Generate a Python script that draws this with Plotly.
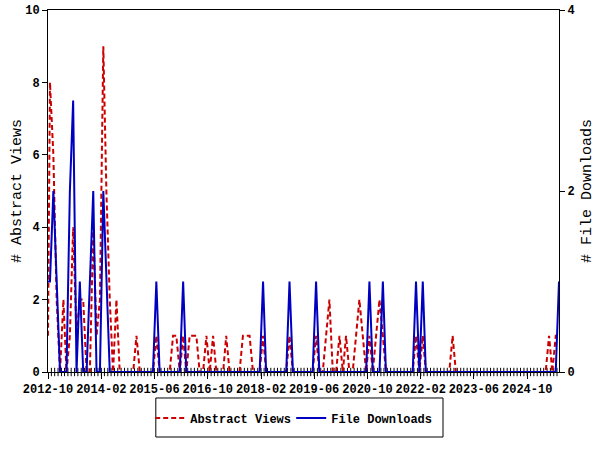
import plotly.graph_objects as go

# ---- data -------------------------------------------------------------
start_date = "2012-10-01"          # first record (at the left border)
first_month = (2012, 10)           # monthly points afterwards (day 19)
point_day = 19

start_views = 1
start_downloads = 1

abstract_views = [
    8, 6, 2, 0, 2, 0, 1, 4, 1, 2,
    2, 0, 0, 4, 1, 2, 9, 5, 2, 0,
    2, 0, 0, 0, 0, 0, 1, 0, 0, 0,
    0, 0, 1, 0, 0, 0, 0, 1, 1, 0,
    1, 0, 1, 1, 1, 0, 0, 1, 0, 1,
    0, 0, 0, 1, 0, 0, 0, 0, 1, 1,
    1, 0, 0, 0, 1, 0, 0, 0, 0, 0,
    0, 0, 1, 0, 0, 0, 0, 0, 0, 0,
    1, 0, 0, 1, 2, 0, 0, 1, 0, 1,
    0, 0, 1, 2, 1, 0, 1, 0, 1, 2,
    1, 0, 0, 0, 0, 0, 0, 0, 0, 0,
    1, 0, 1, 0, 0, 0, 0, 0, 0, 0,
    0, 1, 0, 0, 0, 0, 0, 0, 0, 0,
    0, 0, 0, 0, 0, 0, 0, 0, 0, 0,
    0, 0, 0, 0, 0, 0, 0, 0, 0, 0,
    1, 0, 1, 1,
]

file_downloads = [
    1, 2, 1, 0, 0, 0, 2, 3, 0, 1,
    0, 0, 1, 2, 0, 0, 2, 1, 0, 0,
    0, 0, 0, 0, 0, 0, 0, 0, 0, 0,
    0, 0, 1, 0, 0, 0, 0, 0, 0, 0,
    1, 0, 0, 0, 0, 0, 0, 0, 0, 0,
    0, 0, 0, 0, 0, 0, 0, 0, 0, 0,
    0, 0, 0, 0, 1, 0, 0, 0, 0, 0,
    0, 0, 1, 0, 0, 0, 0, 0, 0, 0,
    1, 0, 0, 0, 0, 0, 0, 0, 0, 0,
    0, 0, 0, 0, 0, 0, 1, 0, 0, 0,
    1, 0, 0, 0, 0, 0, 0, 0, 0, 0,
    1, 0, 1, 0, 0, 0, 0, 0, 0, 0,
    0, 0, 0, 0, 0, 0, 0, 0, 0, 0,
    0, 0, 0, 0, 0, 0, 0, 0, 0, 0,
    0, 0, 0, 0, 0, 0, 0, 0, 0, 0,
    0, 0, 0, 1,
]

tick_labels = ["2012-10", "2014-02", "2015-06", "2016-10", "2018-02",
               "2019-06", "2020-10", "2022-02", "2023-06", "2024-10"]

left_title = "# Abstract Views"
right_title = "# File Downloads"

# ---- build dates -------------------------------------------------------
def month_date(i, day):
    y, m = first_month
    m0 = m - 1 + i
    return f"{y + m0 // 12:04d}-{m0 % 12 + 1:02d}-{day:02d}"

dates = [start_date] + [month_date(i, point_day) for i in range(len(abstract_views))]
views = [start_views] + abstract_views
downloads = [start_downloads] + file_downloads
tick_vals = [lab + "-01" for lab in tick_labels]
minor_tick_dates = [month_date(i, 1) for i in range(1, len(abstract_views) + 1)]
x_range = [start_date, dates[-1]]

FONT = "Liberation Mono, DejaVu Sans Mono, monospace"
RED = "#cc0000"
BLUE = "#0000c0"
TICKFONT = dict(family=FONT, size=12, color="black", weight="bold")

fig = go.Figure()
# monthly minor tick marks along the bottom axis
fig.add_trace(go.Scatter(
    x=minor_tick_dates, y=[0] * len(minor_tick_dates), mode="markers",
    marker=dict(symbol="line-ns", size=6, line=dict(color="black", width=1)),
    cliponaxis=False, showlegend=False, hoverinfo="skip", yaxis="y"))
fig.add_trace(go.Scatter(
    x=dates, y=views, name="Abstract Views", mode="lines",
    line=dict(color=RED, width=2, dash="5px,3px"), yaxis="y"))
fig.add_trace(go.Scatter(
    x=dates, y=downloads, name="File Downloads", mode="lines",
    line=dict(color=BLUE, width=2), yaxis="y2"))

fig.update_layout(
    width=600, height=450,
    margin=dict(l=48, r=41, t=10, b=78),
    paper_bgcolor="white", plot_bgcolor="white",
    font=dict(family=FONT, size=12, color="black"),
    showlegend=True,
    legend=dict(orientation="h", x=0.2, xanchor="left", y=-0.127, yanchor="middle",
                borderwidth=0, bgcolor="rgba(0,0,0,0)",
                font=dict(family=FONT, size=12, color="black", weight="bold"),
                itemwidth=30, tracegroupgap=0,
                entrywidth=96, entrywidthmode="pixels"),
    shapes=[dict(type="rect", xref="paper", yref="paper",
                 x0=0.211, x1=0.773, y0=-0.1796, y1=-0.0718,
                 line=dict(color="black", width=1), fillcolor="rgba(0,0,0,0)")],
    xaxis=dict(
        type="date", range=x_range, automargin=False,
        tickmode="array", tickvals=tick_vals, ticktext=tick_labels, tickangle=0,
        ticks="outside", ticklen=6, tickcolor="black", tickwidth=1,
        tickfont=TICKFONT,
        showline=True, linecolor="black", linewidth=1, mirror=True,
        showgrid=False, zeroline=False),
    yaxis=dict(
        range=[0, 10], dtick=2, ticks="outside", ticklen=5, tickcolor="black",
        tickfont=TICKFONT, automargin=False,
        showline=True, linecolor="black", linewidth=1,
        showgrid=False, zeroline=False),
    yaxis2=dict(
        range=[0, 4], dtick=2, overlaying="y", side="right", anchor="x",
        ticks="outside", ticklen=5, tickcolor="black",
        tickfont=TICKFONT, automargin=False,
        showline=True, linecolor="black", linewidth=1,
        showgrid=False, zeroline=False),
    annotations=[
        dict(text=left_title, xref="paper", yref="paper", x=-0.0607, y=0.5,
             xanchor="center", yanchor="middle", textangle=-90, showarrow=False,
             font=dict(family=FONT, size=15, color="black")),
        dict(text=right_title, xref="paper", yref="paper", x=1.055, y=0.5,
             xanchor="center", yanchor="middle", textangle=-90, showarrow=False,
             font=dict(family=FONT, size=15, color="black")),
    ],
)

fig.write_html("out.html", config={"displayModeBar": False},
               post_script="document.body.style.margin='0';"
                           "document.body.style.padding='0';"
                           "document.body.style.overflow='hidden';")
